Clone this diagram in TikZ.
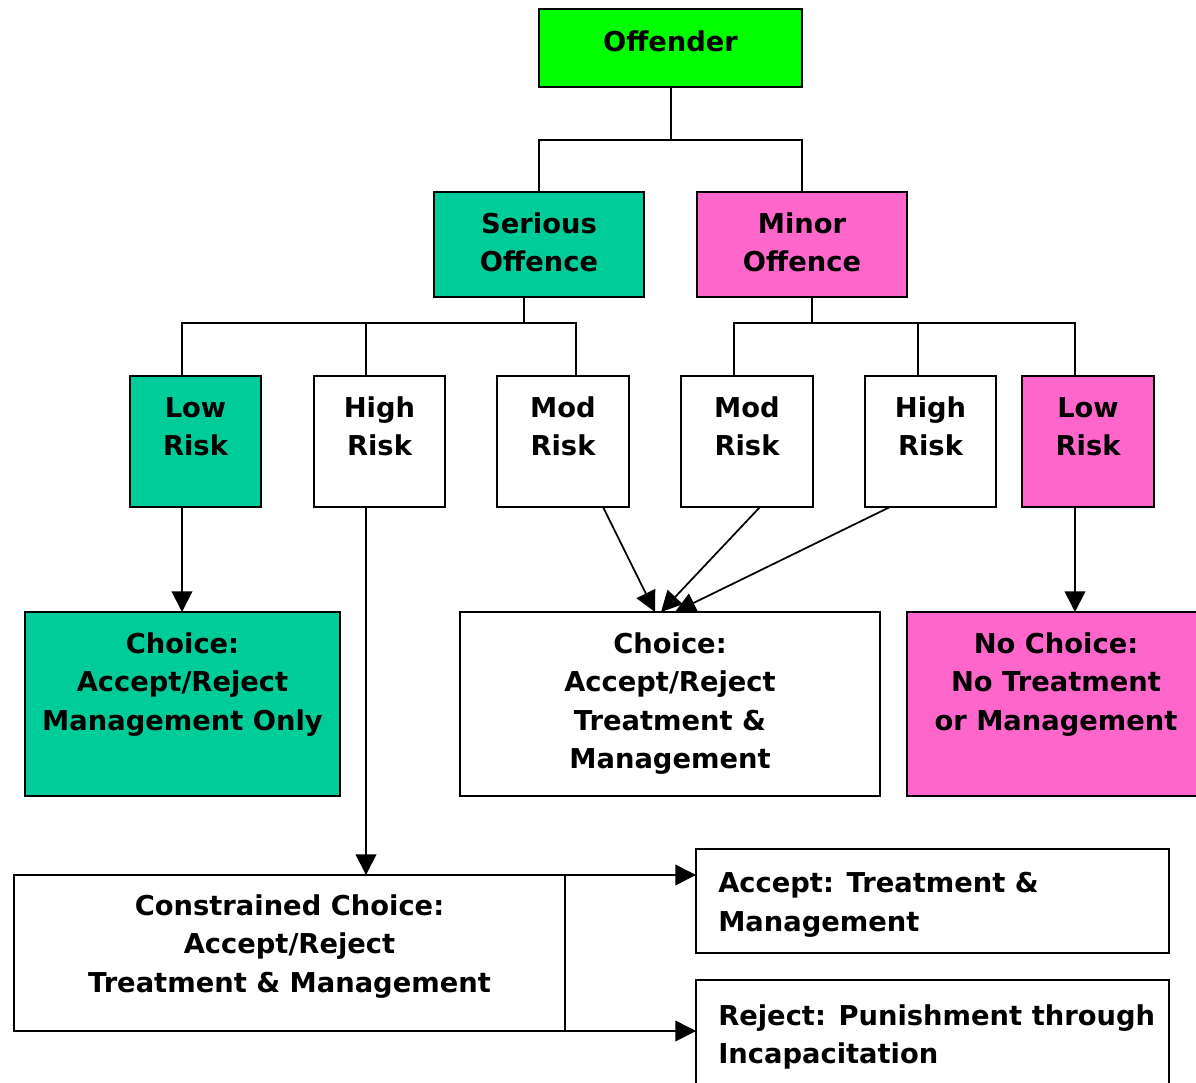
\documentclass[tikz,border=0pt]{standalone}
\usepackage{fontspec}
\setmainfont{DejaVu Sans}
\usetikzlibrary{arrows.meta,calc}
\definecolor{cgreen}{HTML}{00FF00}
\definecolor{cteal}{HTML}{00CC99}
\definecolor{cpink}{HTML}{FF66CC}
\newcommand{\mystrutx}{\rule{0pt}{16pt}}
\begin{document}
\begin{tikzpicture}[x=0.75pt,y=-0.75pt,
  box/.style={draw, line width=1.4pt, inner sep=0pt, outer sep=0pt},
  sz/.style 2 args={minimum width=#1*0.75pt, minimum height=#2*0.75pt},
  txt/.style={anchor=north, inner sep=0pt, align=center, font=\fontsize{20.5}{28.9}\selectfont\bfseries},
  txtl/.style={txt, anchor=north west, align=left},
  conn/.style={line width=1.3pt},
  arr/.style={conn, -{Triangle[length=15.5pt,width=15.5pt]}}]
\useasboundingbox (0,0) rectangle (1196,1082);
\clip (0,0) rectangle (1196,1082);

% boxes
\node[box, fill=cgreen, sz={263}{78}] (off) at (670.5,48) {};
\node[box, fill=cteal, sz={210}{105}] (ser) at (539,244.5) {};
\node[box, fill=cpink, sz={210}{105}] (min) at (802,244.5) {};
\node[box, fill=cteal, sz={131}{131}] (r1) at (195.5,441.5) {};
\node[box, fill=white, sz={131}{131}] (r2) at (379.5,441.5) {};
\node[box, fill=white, sz={132}{131}] (r3) at (563,441.5) {};
\node[box, fill=white, sz={132}{131}] (r4) at (747,441.5) {};
\node[box, fill=white, sz={131}{131}] (r5) at (930.5,441.5) {};
\node[box, fill=cpink, sz={132}{131}] (r6) at (1088,441.5) {};
\node[box, fill=cteal, sz={315}{184}] (c1) at (182.5,704) {};
\node[box, fill=white, sz={420}{184}] (c2) at (670,704) {};
\node[box, fill=cpink, sz={308}{184}] (c3) at (1061,704) {};
\node[box, fill=white, sz={551}{156}] (cc) at (289.5,953) {};
\node[box, fill=white, sz={473}{104}] (acc) at (932.5,901) {};
\node[box, fill=white, sz={473}{140}] (rej) at (932.5,1050) {};

% texts
\node[txt] (offT) at (670.5,29.7) {\mystrutx Offender};
\node[txt] (serT) at (539,211.7) {\mystrutx Serious\\Offence};
\node[txt] (minT) at (802,211.7) {\mystrutx Minor\\Offence};
\node[txt] (r1T) at (195.5,395.7) {\mystrutx Low\\Risk};
\node[txt] (r2T) at (379.5,395.7) {\mystrutx High\\Risk};
\node[txt] (r3T) at (563,395.7) {\mystrutx Mod\\Risk};
\node[txt] (r4T) at (747,395.7) {\mystrutx Mod\\Risk};
\node[txt] (r5T) at (930.5,395.7) {\mystrutx High\\Risk};
\node[txt] (r6T) at (1088,395.7) {\mystrutx Low\\Risk};
\node[txt] (c1T) at (182.5,631.7) {\mystrutx Choice:\\Accept/Reject\\Management Only};
\node[txt] (c2T) at (670,631.7) {\mystrutx Choice:\\Accept/Reject\\Treatment \&\\Management};
\node[txt] (c3T) at (1056,631.7) {\mystrutx No Choice:\\No Treatment\\or Management};
\node[txt] (ccT) at (289.5,893.7) {\mystrutx Constrained Choice:\\Accept/Reject\\Treatment \& Management};
\node[txtl] (accT) at (718,871) {\mystrutx Accept: Treatment \&\\Management};
\node[txtl] (rejT) at (718,1003.7) {\mystrutx Reject: Punishment through\\Incapacitation};

% tree connectors
\coordinate (j0) at (671,140);
\draw[conn] ($(off.south)+(0.5,0)$) -- (j0);
\draw[conn] (ser.north) |- (j0) -| (min.north);

\coordinate (s1) at ($(ser.south)+(-15,0)$);
\coordinate (j1) at (524,323);
\coordinate (p1) at ($(r1.north)+(-13.5,0)$);
\coordinate (p2) at ($(r2.north)+(-13.5,0)$);
\coordinate (p3) at ($(r3.north)+(13,0)$);
\draw[conn] (s1) -- (j1);
\draw[conn] (p1) |- (j1) -| (p3);
\draw[conn] (p2) -- (p2 |- j1);

\coordinate (s2) at ($(min.south)+(10,0)$);
\coordinate (j2) at (812,323);
\coordinate (p4) at ($(r4.north)+(-13,0)$);
\coordinate (p5) at ($(r5.north)+(-12.5,0)$);
\coordinate (p6) at ($(r6.north)+(-13,0)$);
\draw[conn] (s2) -- (j2);
\draw[conn] (p4) |- (j2) -| (p6);
\draw[conn] (p5) -- (p5 |- j2);

% arrows
\draw[arr] ($(r1.south)+(-13.5,0)$) -- ($(c1.north)+(-0.5,0)$);
\draw[arr] ($(r2.south)+(-13.5,0)$) -- ($(cc.north)+(76.5,0)$);
\draw[arr] ($(r3.south)+(40,0)$) -- ($(c2.north)+(-15,0)$);
\draw[arr] ($(r4.south)+(13,0)$) -- ($(c2.north)+(-9,0)$);
\draw[arr] ($(r5.south)+(-40.5,0)$) -- ($(c2.north)+(5,0)$);
\draw[arr] ($(r6.south)+(-13,0)$) -- ($(c3.north)+(14,0)$);
\draw[arr] (cc.north east) -- (cc.north east -| acc.west);
\draw[arr] (cc.south east) -- (cc.south east -| rej.west);
\end{tikzpicture}
\end{document}
